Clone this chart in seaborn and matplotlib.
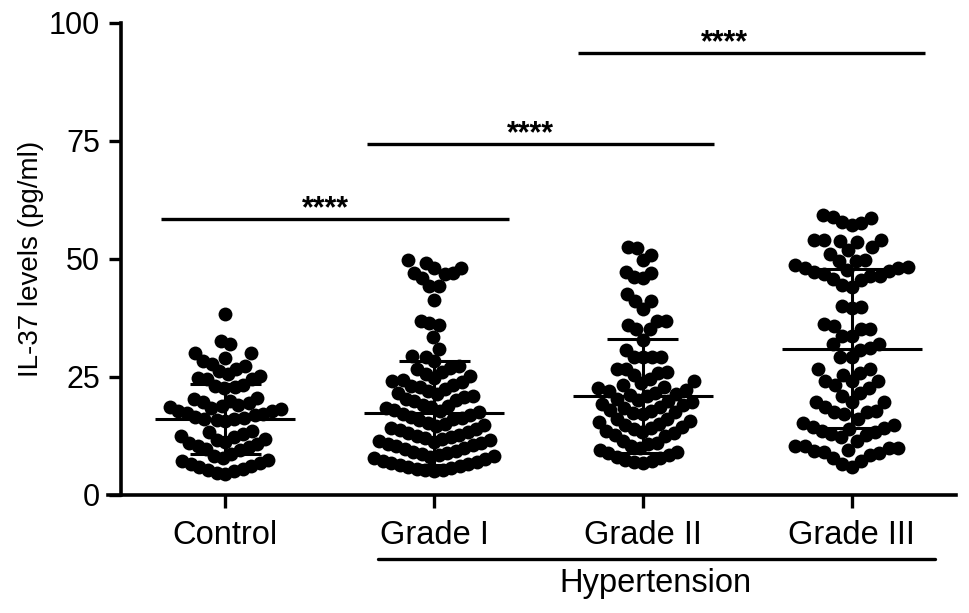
import matplotlib.pyplot as plt
import seaborn as sns
import pandas as pd
import numpy as np

# ---- data (IL-37, pg/ml), row by row from the dot plot ----
groups = ["Control", "Grade I", "Grade II", "Grade III"]

control = [29.0, 30.0, 30.0, 32.0, 32.6, 38.3,
           24.5, 24.6, 24.8, 25.2, 25.7, 26.2, 26.8, 27.3, 27.8, 28.3,
           18.6, 18.8, 19.1, 19.4, 19.7, 20.0, 20.3, 20.6, 22.6, 22.9, 23.1, 23.3,
           15.6, 15.8, 16.0, 16.2, 16.4, 16.6, 16.9, 17.1, 17.4, 17.7, 17.9, 18.2, 18.4,
           9.6, 9.8, 10.1, 10.4, 10.7, 11.0, 11.3, 11.6, 11.9, 12.2, 12.5, 12.9, 13.3, 13.6,
           4.4, 4.7, 5.0, 5.3, 5.6, 5.9, 6.2, 6.5, 6.8, 7.1, 7.4, 7.8, 8.2, 8.6]

grade_1 = [49.7, 49.2, 48.0, 48.0, 47.1, 47.1, 46.9, 45.9, 44.3, 44.3, 41.4,
           36.8, 36.5, 36.0, 33.4, 31.0, 29.4, 29.2,
           24.0, 24.1, 24.4, 24.8, 25.2, 25.6, 26.1, 26.6, 27.0, 27.4, 28.3,
           19.9, 20.1, 20.4, 20.7, 21.0, 21.3, 21.6, 22.0, 22.4, 22.8, 23.1, 23.4,
           15.8, 16.0, 16.3, 16.6, 16.9, 17.2, 17.5, 17.8, 18.1, 18.4, 18.6, 18.8, 19.0,
           11.8, 12.0, 12.3, 12.5, 12.8, 13.1, 13.4, 13.7, 14.0, 14.3, 14.6, 14.9, 15.1, 15.3,
           8.3, 8.5, 8.7, 8.9, 9.1, 9.4, 9.7, 10.0, 10.3, 10.6, 10.9, 11.1, 11.3, 11.5, 11.6,
           5.0, 5.2, 5.4, 5.6, 5.8, 6.0, 6.2, 6.4, 6.6, 6.8, 7.0, 7.3, 7.6, 7.9, 8.1]

grade_2 = [52.5, 52.4, 50.8, 49.7, 47.3, 47.1, 46.2, 46.0, 42.6, 41.2, 41.2, 39.5,
           36.8, 36.8, 36.1, 35.1, 35.1, 32.9, 30.8,
           25.5, 25.9, 26.1, 26.8, 26.8, 29.2, 29.2, 29.2, 29.2,
           20.9, 21.1, 21.4, 21.7, 22.0, 22.3, 22.6, 22.9, 23.3, 23.7, 24.1, 24.5,
           17.2, 17.4, 17.6, 17.9, 18.1, 18.4, 18.7, 19.0, 19.3, 19.6, 19.9, 20.2, 20.4,
           12.6, 12.8, 13.1, 13.4, 13.6, 13.9, 14.2, 14.5, 14.8, 15.1, 15.4, 15.7, 16.0, 16.2,
           6.7, 6.9, 7.2, 7.5, 7.8, 8.1, 8.4, 8.8, 9.2, 9.6, 10.0, 10.4, 10.8, 11.1, 11.4]

grade_3 = [6.0, 6.6, 7.2, 7.8, 8.5, 8.9, 9.2, 9.4, 9.6, 9.9, 10.0, 10.3, 10.4,
           11.4, 12.2, 12.8, 12.9, 13.4, 13.6, 14.0, 14.3, 14.4, 14.8, 15.2,
           16.0, 17.1, 17.5, 17.5, 17.9, 18.7, 19.8, 19.8, 19.8, 21.0, 21.6, 22.6, 23.3,
           24.1, 24.1, 24.1, 25.5, 25.8, 26.6, 26.6,
           29.2, 29.2, 30.8, 31.1, 31.9, 31.9, 33.7, 33.7, 35.1, 35.1, 35.8, 36.2,
           39.6, 39.8, 40.0,
           44.1, 44.4, 45.5, 45.8, 46.3, 46.5, 46.8, 47.2, 47.4, 47.6, 48.0, 48.1, 48.3,
           48.7, 49.6, 49.6, 49.7,
           51.1, 52.0, 52.5, 53.7, 53.8, 54.0, 54.0, 54.0,
           57.2, 57.7, 57.9, 58.6, 59.0, 59.3]

# mean and SD bars as drawn in the figure
means = [16.1, 17.3, 21.0, 31.0]
sds = [7.5, 11.0, 12.1, 16.9]

# significance bars: start / end category position, height, label
sig_start = [-0.31, 0.68, 1.69]
sig_end = [1.36, 2.34, 3.35]
sig_height = [58.4, 74.4, 93.7]
sig_star_x = [0.48, 1.46, 2.39]
sig_label = ["****", "****", "****"]

values = [control, grade_1, grade_2, grade_3]
df = pd.DataFrame({
    "group": np.repeat(groups, [len(v) for v in values]),
    "level": np.concatenate(values),
})

sns.set_style("ticks")
plt.rcParams["font.family"] = ["Liberation Sans", "DejaVu Sans"]
for key in ["text.color", "axes.labelcolor", "xtick.color", "ytick.color", "axes.edgecolor"]:
    plt.rcParams[key] = "black"

fig, ax = plt.subplots(figsize=(9.69, 6.13), dpi=100)
fig.subplots_adjust(left=108 / 969, right=956 / 969, bottom=1 - 495 / 613, top=1 - 23 / 613)

# swarm layout is computed with a smaller dot, then dots are drawn larger (overlapping like Prism)
layout_sizes = [6.0, 5.9, 6.0, 6.6]
dot_size = 10.0
squash = 2.0   # y is squeezed during layout so each value row spreads out sideways
for g, s in zip(groups, layout_sizes):
    sns.swarmplot(data=df[df["group"] == g], x="group", y="level", order=groups,
                  color="black", size=s, linewidth=0, ax=ax, warn_thresh=1)

ax.set_xlim(-0.562, 3.5)
ax.set_ylim(0, 100 * squash)
fig.canvas.draw()
for coll in ax.collections:
    coll.__dict__.pop("draw", None)   # keep the computed swarm positions
    coll.set_sizes([dot_size ** 2])
ax.set_ylim(0, 100)

# mean +- SD
xpos = np.arange(len(groups))
lo = np.array(means) - np.array(sds)
hi = np.array(means) + np.array(sds)
bar_kw = dict(color="black", lw=2.2, zorder=4)
ax.hlines(means, xpos - 0.335, xpos + 0.335, **bar_kw)
ax.vlines(xpos, lo, hi, **bar_kw)
ax.hlines(hi, xpos - 0.17, xpos + 0.17, **bar_kw)
ax.hlines(lo, xpos - 0.17, xpos + 0.17, **bar_kw)

# significance
for x0, x1, h, sx, lab in zip(sig_start, sig_end, sig_height, sig_star_x, sig_label):
    ax.plot([x0, x1], [h, h], color="black", lw=2.4, solid_capstyle="butt", clip_on=False)
    ax.text(sx, h + 0.4, lab, ha="center", va="baseline", fontsize=22, fontweight="bold")

# hypertension bracket under the grades
ax.plot([0.73, 3.40], [-13.5, -13.5], color="black", lw=2.4, clip_on=False)
ax.text(2.06, -18.8, "Hypertension", ha="center", va="center", fontsize=23.5)

# axes styling
sns.despine(ax=ax)
ax.spines["left"].set_position(("data", -0.5))
for sp in ["left", "bottom"]:
    ax.spines[sp].set_linewidth(2.6)
ax.set_yticks([0, 25, 50, 75, 100])
ax.tick_params(axis="both", length=9, width=2.4, direction="out")
ax.tick_params(axis="x", labelsize=23.5, pad=9)
ax.tick_params(axis="y", labelsize=22, pad=6)
ax.set_xlabel("")
ax.set_ylabel("IL-37 levels (pg/ml)", fontsize=20)
ax.yaxis.set_label_coords(-0.0755, 0.5)

fig.savefig("out.png", dpi=100)
